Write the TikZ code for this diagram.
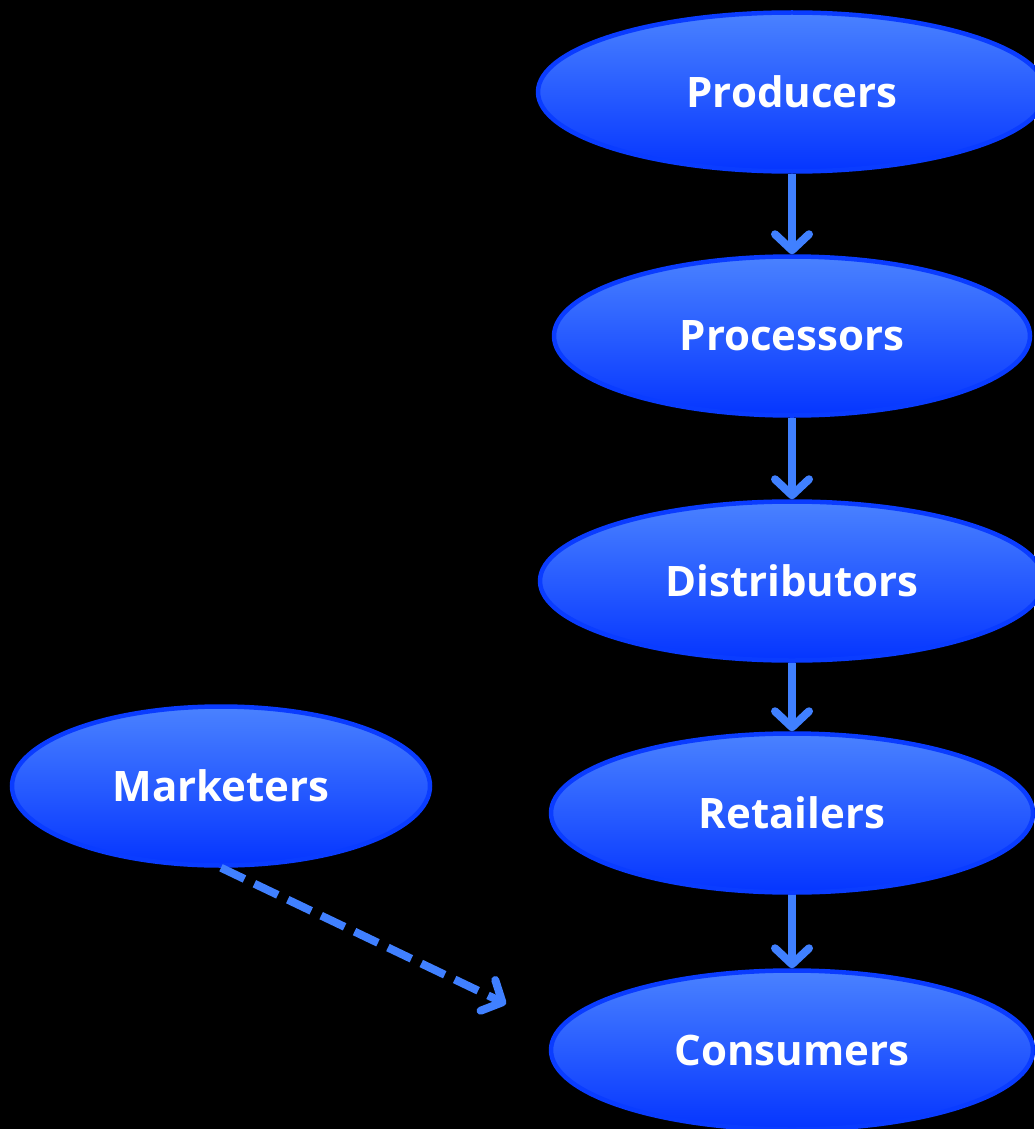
\documentclass[tikz,border=0pt]{standalone}
\usepackage{fontspec}
\setmainfont{Open Sans}
\usepackage{tikz}
\usetikzlibrary{arrows.meta}
\usetikzlibrary{shapes.geometric,positioning}
\definecolor{kante}{HTML}{4080FF}
\definecolor{oben}{HTML}{4A82FF}
\definecolor{unten}{HTML}{0535FF}
\definecolor{rand}{HTML}{0A3CFF}

\begin{document}
\begin{tikzpicture}[x=1pt,y=-1pt]
	\useasboundingbox (0,0) rectangle (1034,1129);
	\fill[black] (0,0) rectangle (1034,1129);

	\begin{scope}[every node/.style={ellipse,draw=rand,line width=4.5pt,top color=oben,bottom color=unten,
		text=white,font=\fontsize{42}{50}\selectfont\bfseries,inner sep=0pt,minimum height=159pt}]
		\node [minimum width=508pt] (producers) at (792,92) {Producers};
		\node [minimum width=476pt] (processors) at (792,336) {Processors};
		\node [minimum width=504pt] (distributors) at (792,581) {Distributors};
		\node [minimum width=482pt] (retailers) at (792,813) {Retailers};
		\node [minimum width=482pt] (consumers) at (792,1050) {Consumers};
		\node [minimum width=418pt] (marketers) at (221,786) {Marketers};
	\end{scope}
	\coordinate (ziel) at (506,1004);

	\begin{scope}[>={Straight Barb[length=16pt,width=34pt,round]},
		every edge/.style={draw=kante,line width=8pt,->}
	]
		\path (producers) edge (processors);
		\path (processors) edge (distributors);
		\path (distributors) edge (retailers);
		\path (retailers) edge (consumers);
		\path (marketers.south) edge[dash pattern=on 26pt off 11pt] (ziel);
	\end{scope}
\end{tikzpicture}
\end{document}
